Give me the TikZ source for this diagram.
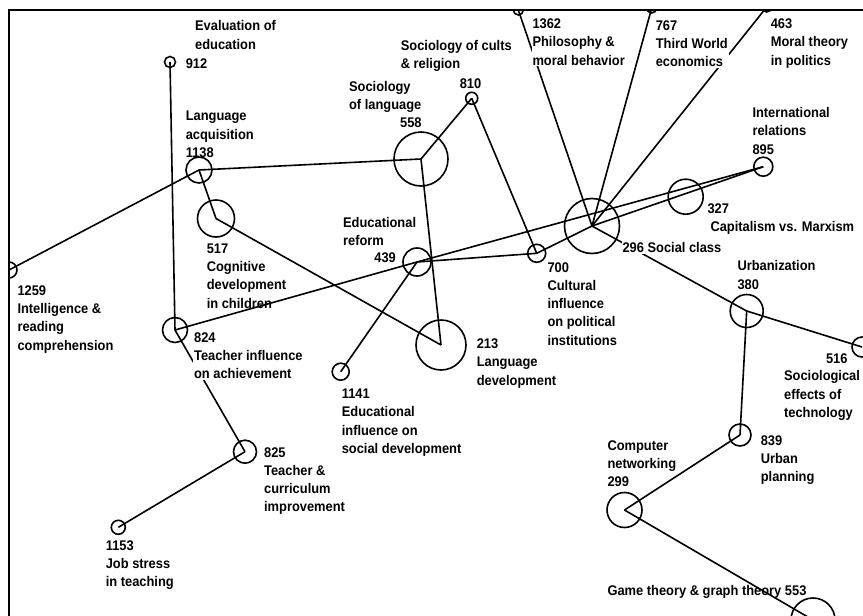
\documentclass[tikz,border=0pt]{standalone}
\usepackage{fontspec}
\newfontfamily\clufont{Liberation Sans}[FakeStretch=0.92]

\begin{document}
\begin{tikzpicture}[x=1pt,y=-1pt,line width=1.6pt,
  cluster/.style={circle,draw,inner sep=0pt},
  topic/.style={font=\clufont\bfseries\fontsize{14}{18.3}\selectfont,
    align=left,inner sep=1pt,anchor=north west},
  cut/.style={fill=white}]

  \useasboundingbox (0,0) rectangle (863,616);
  \draw (8.7,616) -- (8.7,9.7) -- (863,9.7);
  \clip (8.7,9.7) rectangle (863,616);

  % clusters
  \node[cluster,minimum size=11] (912) at (170,62) {};
  \node[cluster,minimum size=26] (1138) at (199,170) {};
  \node[cluster,minimum size=37] (517) at (216,218.5) {};
  \node[cluster,minimum size=54] (558) at (421,159) {};
  \node[cluster,minimum size=12] (810) at (471.7,98.3) {};
  \node[cluster,minimum size=10] (1362) at (518.3,10) {};
  \node[cluster,minimum size=10] (767) at (651.7,8) {};
  \node[cluster,minimum size=10] (463) at (766.7,7) {};
  \node[cluster,minimum size=28] (439) at (417,262) {};
  \node[cluster,minimum size=50] (213) at (441,345) {};
  \node[cluster,minimum size=17] (1141) at (340.7,371.7) {};
  \node[cluster,minimum size=18] (700) at (536.7,253.3) {};
  \node[cluster,minimum size=55] (296) at (592,226) {};
  \node[cluster,minimum size=35] (327) at (685.7,196.7) {};
  \node[cluster,minimum size=19] (895) at (763.3,166.7) {};
  \node[cluster,minimum size=16] (1259) at (9,270) {};
  \node[cluster,minimum size=25] (824) at (175,330) {};
  \node[cluster,minimum size=23] (825) at (245,451.7) {};
  \node[cluster,minimum size=14] (1153) at (118.3,527.3) {};
  \node[cluster,minimum size=33] (380) at (746.7,311) {};
  \node[cluster,minimum size=20] (516) at (862,347) {};
  \node[cluster,minimum size=22] (839) at (740,435) {};
  \node[cluster,minimum size=35] (299) at (624.5,510) {};
  \node[cluster,minimum size=44] (553) at (813,620) {};

  % links
  \path
    (912.center) edge (824.center)
    (1259.center) edge (1138.center)
    (1138.center) edge (558.center)
    (1138.center) edge (517.center)
    (517.center) edge (213.center)
    (558.center) edge (810.center)
    (558.center) edge (213.center)
    (810.center) edge (700.center)
    (824.center) edge (439.center)
    (439.center) edge (895.center)
    (439.center) edge (700.center)
    (1141.center) edge (439.center)
    (700.center) edge (296.center)
    (296.center) edge (895.center)
    (296.center) edge (1362.center)
    (296.center) edge (767.center)
    (296.center) edge (463.center)
    (296.center) edge (380.center)
    (380.center) edge (516.center)
    (380.center) edge (839.center)
    (839.center) edge (299.center)
    (299.center) edge (553.center)
    (824.center) edge (825.center)
    (825.center) edge (1153.center);

  % topics
  \node[topic] (t912) at (193.3,18.8) {Evaluation of\\education};
  \node[topic] (n912) at (184,56.8) {912};
  \node[topic] (t1138) at (184,109.5) {Language\\acquisition\\1138};
  \node[topic] (t517) at (205,241.8) {517\\Cognitive\\development\\in children};
  \node[topic] (t439) at (341.3,215.5) {Educational\\reform};
  \node[topic,anchor=north east] (n439) at (397.7,250.5) {439};
  \node[topic] (t558) at (347.3,79.5) {Sociology\\of language};
  \node[topic] (n558) at (398.3,115.5) {558};
  \node[topic] (t810) at (399,38.1) {Sociology of cults\\\& religion};
  \node[topic] (n810) at (458,76.5) {810};
  \node[topic,cut] (t1362) at (530.7,17.1) {1362\\Philosophy \&\\moral behavior};
  \node[topic,cut] (t767) at (654,18.8) {767\\Third World\\economics};
  \node[topic] (t463) at (769,17.1) {463\\Moral theory\\in politics};
  \node[topic] (t895) at (750.7,105.5) {International\\relations\\895};
  \node[topic] (t327) at (705.7,202.1) {327\\\hspace*{3pt}Capitalism vs. Marxism};
  \node[topic,cut] (t296) at (620.7,240.5) {296 Social class};
  \node[topic] (t700) at (545.7,260.5) {700\\Cultural\\influence\\on political\\institutions};
  \node[topic] (t213) at (475,337.1) {213\\Language\\development};
  \node[topic] (t1141) at (340,387.1) {1141\\Educational\\influence on\\social development};
  \node[topic] (t1259) at (15.7,283.8) {1259\\Intelligence \&\\reading\\comprehension};
  \node[topic,cut] (t824) at (192.3,330.5) {824\\Teacher influence\\on achievement};
  \node[topic] (t825) at (262.3,445.5) {825\\Teacher \&\\curriculum\\improvement};
  \node[topic] (t1153) at (104,538.8) {1153\\Job stress\\in teaching};
  \node[topic] (t380) at (735.7,258.8) {Urbanization\\380};
  \node[topic,anchor=north east] (n516) at (849.3,352.1) {516};
  \node[topic] (t516) at (782.3,368.8) {Sociological\\effects of\\technology};
  \node[topic] (t839) at (759,433.8) {839\\Urban\\planning};
  \node[topic] (t299) at (605.7,438.8) {Computer\\networking\\299};
  \node[topic] (t553) at (605.7,583.8) {Game theory \& graph theory 553};

\end{tikzpicture}
\end{document}
